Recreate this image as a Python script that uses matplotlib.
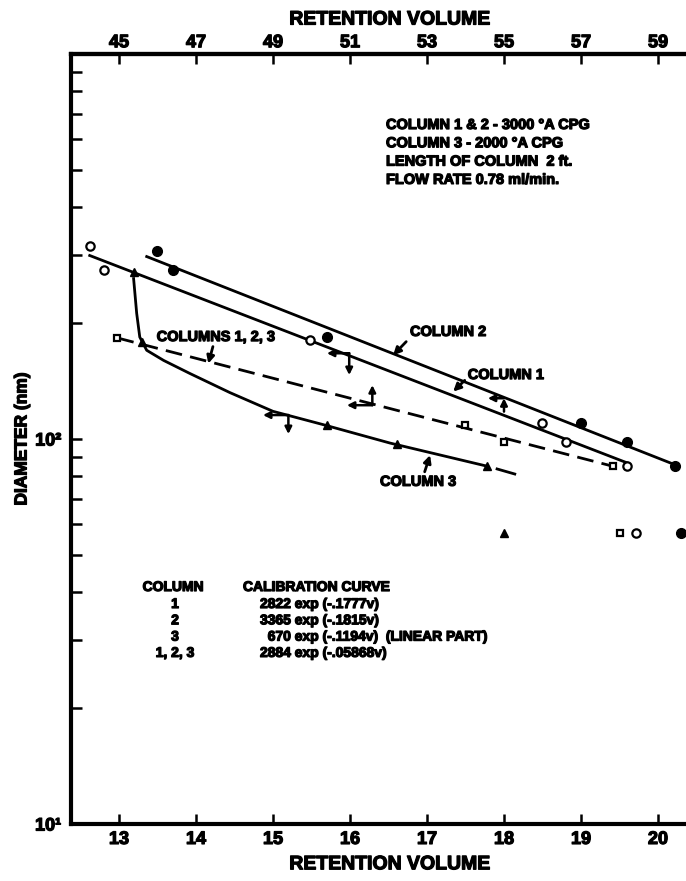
import numpy as np
import matplotlib
matplotlib.use('Agg')
import matplotlib.pyplot as plt
import matplotlib.patheffects as pe
from matplotlib.text import Text
from matplotlib.ticker import FixedLocator, FixedFormatter, NullFormatter

plt.rcParams['font.family'] = ['Liberation Sans', 'DejaVu Sans']
plt.rcParams['font.weight'] = 'bold'

# retention volume (ml) vs particle diameter (nm)
col1_v = [12.62, 12.81, 15.48, 18.50, 18.80, 19.60]
col1_d = [318, 275, 181, 110, 98, 85]
col2_v = [13.50, 13.70, 15.70, 19.00, 19.60, 20.22]
col2_d = [308, 274, 184, 110, 98, 85]
col3_v = [13.19, 13.30, 15.70, 16.61, 17.78]
col3_d = [271, 179, 109, 97, 85]
comb_v = [12.98, 17.50, 18.00, 19.41]
comb_d = [183, 108.5, 98, 85]

# total permeation volumes
perm_d = 57
perm_col3_v = 18.00
perm_comb_v = 19.50
perm_col1_v = 19.71
perm_col2_v = 20.30

# column 3 curve (non-linear part + linear part)
col3_curve_v = [13.19, 13.23, 13.27, 13.36, 13.58, 13.92, 14.44, 15.00, 15.65, 16.52, 17.78]
col3_curve_d = [261, 212, 184, 170, 160, 148, 132, 118, 109, 97.6, 85]
col3_tail_v = [17.91, 18.14]
col3_tail_d = [83.6, 81.1]

# combined columns fit
comb_fit_v = [12.98, 19.41]
comb_fit_d = [183, 85]

# calibration fits for columns 1 and 2
col1_A, col1_k = 2822, 0.1777
col2_A, col2_k = 3365, 0.1815
col1_fit_v = np.linspace(12.62, 19.60, 50)
col2_fit_v = np.linspace(13.36, 20.22, 50)

bottom_ticks = [13, 14, 15, 16, 17, 18, 19, 20]
top_ticks = [45, 47, 49, 51, 53, 55, 57, 59]

fig = plt.figure(figsize=(6.86, 8.81), dpi=100)
ax = fig.add_axes([0.1035, 0.0647, 0.930, 0.874])
ax.set_yscale('log')
ax.set_xlim(12.377, 20.662)
ax.set_ylim(10, 1000)

lw = 2.0
ax.plot(col1_fit_v, col1_A * np.exp(-col1_k * col1_fit_v), color='k', lw=lw)
ax.plot(col2_fit_v, col2_A * np.exp(-col2_k * col2_fit_v), color='k', lw=lw)
ax.plot(col3_curve_v, col3_curve_d, color='k', lw=lw)
ax.plot(col3_tail_v, col3_tail_d, color='k', lw=lw)
ax.plot(comb_fit_v, comb_fit_d, color='k', lw=lw, dashes=(6, 3))

ax.plot(col1_v, col1_d, 'o', ms=6, mfc='white', mec='k', mew=1.6)
ax.plot(col2_v, col2_d, 'o', ms=7, mfc='k', mec='k')
ax.plot(col3_v, col3_d, '^', ms=6, mfc='k', mec='k')
ax.plot(comb_v, comb_d, 's', ms=5, mfc='white', mec='k', mew=1.6)

ax.plot([perm_col3_v], [perm_d], '^', ms=6, mfc='k', mec='k')
ax.plot([perm_comb_v], [perm_d], 's', ms=5, mfc='white', mec='k', mew=1.6)
ax.plot([perm_col1_v], [perm_d], 'o', ms=6, mfc='white', mec='k', mew=1.6)
ax.plot([perm_col2_v], [perm_d], 'o', ms=7, mfc='k', mec='k')

# axes styling
for side in ['left', 'bottom', 'top']:
    ax.spines[side].set_linewidth(3)
ax.spines['right'].set_visible(False)

ax.xaxis.set_major_locator(FixedLocator(bottom_ticks))
ax.xaxis.set_major_formatter(FixedFormatter([str(t) for t in bottom_ticks]))
ax.yaxis.set_major_locator(FixedLocator([10, 100, 1000]))
ax.yaxis.set_major_formatter(FixedFormatter(['10\u00b9', '10\u00b2', '']))
ax.yaxis.set_minor_locator(FixedLocator([m * 10 ** e for e in (1, 2) for m in range(2, 10)]))
ax.yaxis.set_minor_formatter(NullFormatter())
ax.tick_params(axis='x', which='major', direction='in', length=7, width=1.8,
               labelsize=13, pad=5, top=False)
ax.tick_params(axis='y', which='both', direction='in', length=8, width=1.8,
               labelsize=13, pad=7, right=False)
ax.set_xlabel('RETENTION VOLUME', fontsize=14, fontweight='bold', labelpad=6)
ax.set_ylabel('DIAMETER (nm)', fontsize=12.5, fontweight='bold', labelpad=4)

top = ax.secondary_xaxis('top', functions=(lambda x: 2 * x + 19, lambda v: (v - 19) / 2))
top.set_xticks(top_ticks)
top.set_xticklabels([str(t) for t in top_ticks])
top.tick_params(direction='in', length=7, width=1.8, labelsize=13, pad=2)
top.spines['top'].set_linewidth(3)
top.set_xlabel('RETENTION VOLUME', fontsize=14, fontweight='bold', labelpad=7)

# column labels with pointer arrows
def label(text, xy, tip, start):
    ax.text(xy[0], xy[1], text, fontsize=10.5, fontweight='bold', va='center', ha='left')
    ax.annotate('', xy=tip, xytext=start,
                arrowprops=dict(arrowstyle='-|>', lw=2, color='k',
                                mutation_scale=11, shrinkA=0, shrinkB=0))

label('COLUMN 2', (16.78, 189.7), (16.56, 165), (16.73, 179))
label('COLUMN 1', (17.53, 146.6), (17.34, 132.8), (17.49, 142))
label('COLUMN 3', (16.39, 77.4), (17.04, 90.8), (16.97, 82.2))
label('COLUMNS 1, 2, 3', (13.49, 184), (14.16, 157), (14.22, 173.8))

# axis-reading pointers (left = diameter, down = bottom scale, up = top scale)
arrow_kw = dict(arrowstyle='-|>', lw=1.8, color='k', mutation_scale=10, shrinkA=0, shrinkB=0)

def reader(corner, left_x, vert_end):
    ax.annotate('', xy=(left_x, corner[1]), xytext=corner, arrowprops=arrow_kw)
    ax.annotate('', xy=(corner[0], vert_end), xytext=corner, arrowprops=arrow_kw)

reader((15.99, 167), 15.70, 146.6)
reader((15.20, 115.4), 14.87, 103)
reader((16.29, 122.4), 15.96, 138)
ax.annotate('', xy=(17.79, 127.6), xytext=(18.0, 127.6), arrowprops=arrow_kw)
ax.annotate('', xy=(18.0, 127.6), xytext=(18.0, 117.8), arrowprops=arrow_kw)

# column description
info = ['COLUMN 1 & 2 - 3000 \u00b0A CPG',
        'COLUMN 3 - 2000 \u00b0A CPG',
        'LENGTH OF COLUMN  2 ft.',
        'FLOW RATE 0.78 ml/min.']
for i, line in enumerate(info):
    fig.text(386 / 686, 1 - (125 + 18.3 * i) / 881, line, fontsize=10.5,
             fontweight='bold', va='center', ha='left')

# calibration table
table_cols = ['1', '2', '3', '1, 2, 3']
table_eqs = ['2822 exp (-.1777v)', '3365 exp (-.1815v)',
             '  670 exp (-.1194v)  (LINEAR PART)', '2884 exp (-.05868v)']
fig.text(173 / 686, 1 - 587 / 881, 'COLUMN', fontsize=10, fontweight='bold', va='center', ha='center')
fig.text(243 / 686, 1 - 587 / 881, 'CALIBRATION CURVE', fontsize=10, fontweight='bold', va='center', ha='left')
for i, (c, e) in enumerate(zip(table_cols, table_eqs)):
    y = 1 - (604 + 16.3 * i) / 881
    fig.text(175 / 686, y, c, fontsize=10, fontweight='bold', va='center', ha='center')
    fig.text(260 / 686, y, e, fontsize=10, fontweight='bold', va='center', ha='left')

# heavy print look for all lettering
for t in fig.findobj(Text):
    t.set_path_effects([pe.withStroke(linewidth=0.9, foreground='k')])

fig.savefig('out.png', dpi=100)
